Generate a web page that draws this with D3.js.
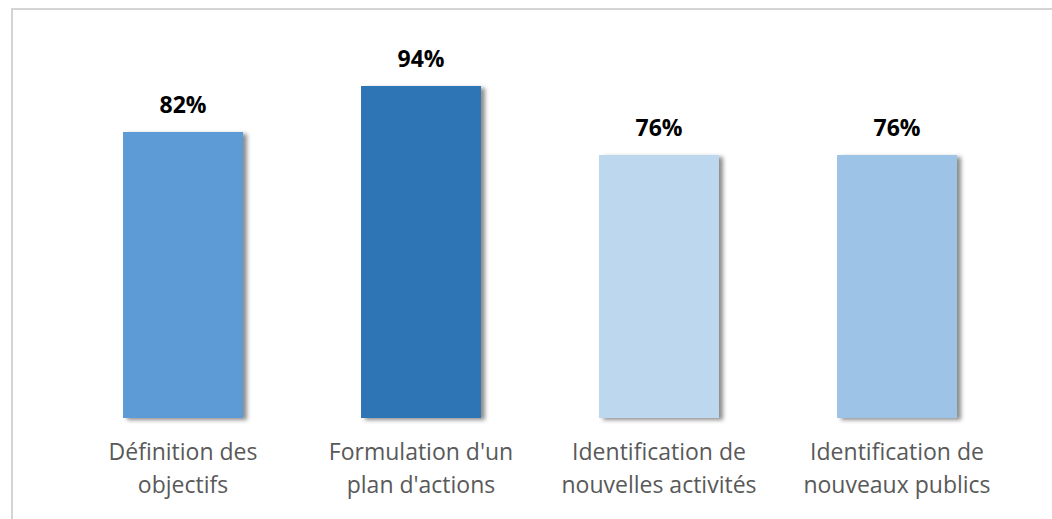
<!DOCTYPE html>
<html>
<head>
<meta charset="utf-8">
<script src="https://cdn.jsdelivr.net/npm/d3@7"></script>
<style>
  html, body { margin: 0; padding: 0; background: #fff; }
  svg { display: block; }
</style>
</head>
<body>
<svg id="chart" width="1052" height="519"></svg>
<script>
// Survey results: share of respondents per outcome
const categories = [
  ["Définition des", "objectifs"],
  ["Formulation d'un", "plan d'actions"],
  ["Identification de", "nouvelles activités"],
  ["Identification de", "nouveaux publics"]
];
const values = [82, 94, 76, 76];
const barColors = ["#5B9BD5", "#2E75B6", "#BDD7EE", "#9DC3E6"];

const W = 1052, H = 519;
const svg = d3.select("#chart");

// Frame: only the top and left edges fall inside the view
svg.append("rect")
  .attr("x", 12).attr("y", 9)
  .attr("width", W + 20).attr("height", H + 20)
  .attr("fill", "none")
  .attr("stroke", "#d4d4d4")
  .attr("stroke-width", 2);

// Soft shadow to the lower right of every bar
const defs = svg.append("defs");
const f = defs.append("filter").attr("id", "shadow")
  .attr("x", "-10%").attr("y", "-10%").attr("width", "130%").attr("height", "130%");
f.append("feDropShadow")
  .attr("dx", 4).attr("dy", 2)
  .attr("stdDeviation", 2.2)
  .attr("flood-color", "#000")
  .attr("flood-opacity", 0.45);

const x = d3.scaleBand()
  .domain(d3.range(categories.length))
  .range([64, 1016])
  .paddingInner(0.496)
  .paddingOuter(0.248);

const y = d3.scaleLinear().domain([7.4, 100]).range([418, 63]);

const g = svg.append("g");

g.selectAll("rect.bar")
  .data(values)
  .join("rect")
  .attr("class", "bar")
  .attr("x", (d, i) => x(i))
  .attr("y", d => y(d))
  .attr("width", x.bandwidth())
  .attr("height", d => y.range()[0] - y(d))
  .attr("fill", (d, i) => barColors[i])
  .attr("filter", "url(#shadow)");

// Value labels above bars
g.selectAll("text.val")
  .data(values)
  .join("text")
  .attr("class", "val")
  .attr("x", (d, i) => x(i) + x.bandwidth() / 2)
  .attr("y", d => y(d) - 19)
  .attr("text-anchor", "middle")
  .attr("font-family", "'Open Sans', sans-serif")
  .attr("font-weight", "bold")
  .attr("font-size", 23)
  .attr("fill", "#000")
  .text(d => d + "%");

// Category labels, two lines each
const cat = g.selectAll("text.cat")
  .data(categories)
  .join("text")
  .attr("class", "cat")
  .attr("text-anchor", "middle")
  .attr("font-family", "'Open Sans', sans-serif")
  .attr("font-size", 23)
  .attr("fill", "#595959");

cat.selectAll("tspan")
  .data((d, i) => d.map((t, j) => ({ t, j, i })))
  .join("tspan")
  .attr("x", d => x(d.i) + x.bandwidth() / 2)
  .attr("y", d => 460 + d.j * 33)
  .text(d => d.t);
</script>
</body>
</html>
